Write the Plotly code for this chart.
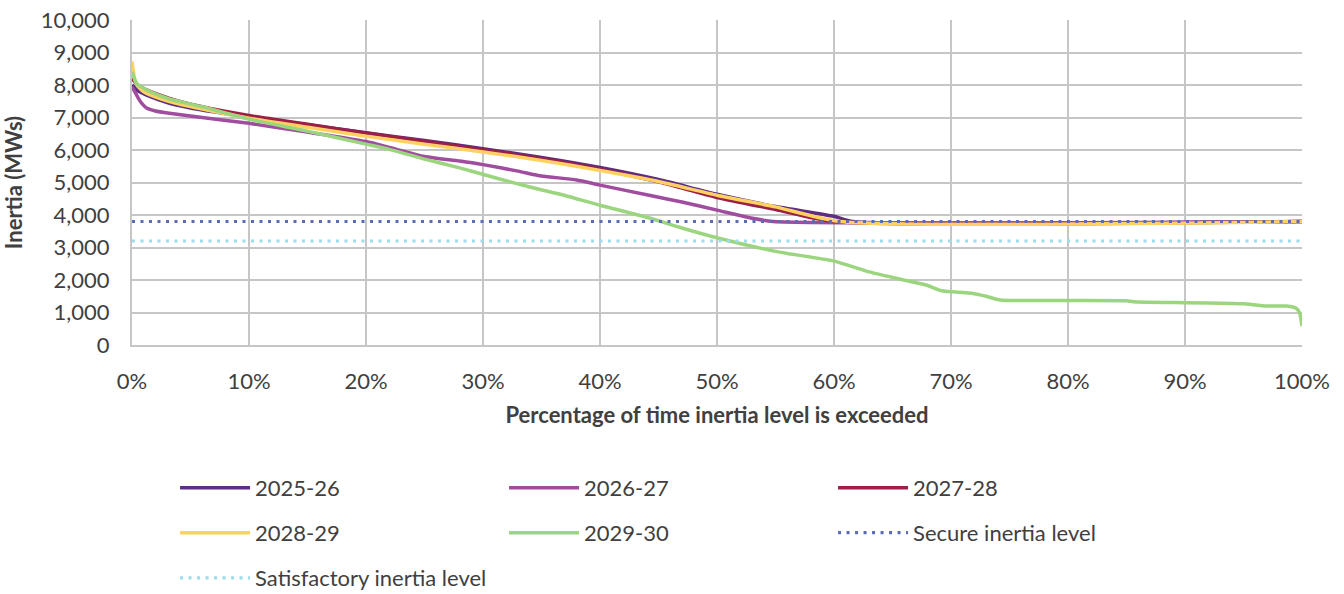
import plotly.graph_objects as go

# ---- data ----
x_2025 = [0, 0.5, 1.25, 3.2, 6, 10, 15, 20, 25, 30, 35, 40, 45, 50, 55, 60, 61.6, 100]
y_2025 = [8000, 7820, 7690, 7440, 7230, 7020, 6780, 6530, 6290, 6040, 5770, 5460, 5090, 4640, 4260, 3960, 3800, 3800]

x_2026 = [0, 0.3, 0.7, 1.25, 2, 3.2, 6, 10, 15, 20, 22, 25, 28, 30, 33, 35, 38, 40, 44.3, 47, 50, 53, 54.8, 100]
y_2026 = [7950, 7750, 7500, 7290, 7200, 7130, 7000, 6820, 6550, 6260, 6080, 5800, 5660, 5550, 5350, 5200, 5080, 4920, 4600, 4400, 4150, 3900, 3800, 3800]

x_2027 = [0, 0.5, 1.25, 3.2, 6, 10, 15, 20, 25, 30, 35, 40, 45, 50, 55, 60, 100]
y_2027 = [8200, 8000, 7850, 7590, 7330, 7060, 6790, 6520, 6270, 6010, 5730, 5410, 5020, 4540, 4170, 3800, 3800]

x_2028 = [0, 0.3, 0.8, 1.25, 3.2, 6, 10, 15, 20, 25, 30, 35, 40, 45, 50, 55, 60.5, 100]
y_2028 = [8720, 8100, 7850, 7740, 7490, 7260, 6980, 6700, 6420, 6180, 5940, 5680, 5370, 5030, 4610, 4250, 3800, 3800]

x_2029 = [0, 0.4, 1.25, 3.2, 6, 10, 15, 20, 22, 25, 28, 31.5, 34, 37, 40, 44.3, 47, 50, 55, 60, 63, 65.6, 68,
          69.2, 71.6, 73, 74.2, 80, 85, 85.6, 90, 94.1, 95, 97, 98.7, 99.5, 99.8, 100]
y_2029 = [8410, 8050, 7850, 7570, 7330, 6950, 6580, 6180, 6020, 5720, 5450, 5100, 4860, 4600, 4300, 3900, 3600, 3300,
          2880, 2580, 2250, 2030, 1830, 1670, 1600, 1500, 1385, 1370, 1360, 1330, 1300, 1280, 1270, 1200, 1200, 1130, 985, 580]

x_levels = [0, 100]
secure_level = [3800, 3800]
satisfactory_level = [3200, 3200]

series = [
    ("2025-26", x_2025, y_2025, "#5C2D82", "solid", "legend"),
    ("2026-27", x_2026, y_2026, "#A04C9F", "solid", "legend"),
    ("2027-28", x_2027, y_2027, "#9C1F45", "solid", "legend"),
    ("2028-29", x_2028, y_2028, "#FFD163", "solid", "legend2"),
    ("2029-30", x_2029, y_2029, "#9BD67F", "solid", "legend2"),
    ("Secure inertia level", x_levels, secure_level, "#5B6BB5", "3px,5.5px", "legend2"),
    ("Satisfactory inertia level", x_levels, satisfactory_level, "#9CDCEB", "3px,5.5px", "legend3"),
]

fig = go.Figure()
for name, xs, ys, color, dash, lg in series:
    fig.add_trace(go.Scatter(
        x=xs, y=ys, name=name, mode="lines", legend=lg,
        line=dict(color=color, width=3.5 if dash == "solid" else 3.2, dash=dash, shape="spline", smoothing=0.6),
    ))

font_family = "Lato, 'Open Sans', sans-serif"
grid = "#C6C6C6"
txt = "#404040"
fs = 22

legend_common = dict(
    orientation="h", xanchor="left", yanchor="middle", x=0.0368,
    entrywidth=244, entrywidthmode="pixels", itemwidth=70,
    font=dict(family=font_family, size=fs, color=txt),
    bgcolor="rgba(0,0,0,0)", traceorder="normal",
)

fig.update_layout(
    width=1344, height=614,
    margin=dict(l=132, r=42, t=20, b=269),
    paper_bgcolor="white", plot_bgcolor="white",
    font=dict(family=font_family, size=fs, color=txt),
    xaxis=dict(
        range=[0, 100], dtick=10, tick0=0, ticksuffix="%",
        showgrid=True, gridcolor=grid, gridwidth=2,
        showline=True, linecolor=grid, linewidth=2, mirror=False,
        zeroline=False, ticks="", ticklabelstandoff=16,
        tickfont=dict(size=fs, color=txt), automargin=False,
        title=dict(text="<b>Percentage of time inertia level is exceeded</b>",
                   font=dict(size=fs, color=txt), standoff=14),
    ),
    yaxis=dict(
        range=[0, 10000], dtick=1000, tickformat=",",
        showgrid=True, gridcolor=grid, gridwidth=2,
        showline=True, linecolor=grid, linewidth=2,
        zeroline=False, ticks="", ticklabelstandoff=16,
        ticklabeloverflow="allow", automargin=False,
        tickfont=dict(size=fs, color=txt),
        title=dict(text="<b>Inertia (MWs)</b>", font=dict(size=fs, color=txt), standoff=22),
    ),
    legend=dict(legend_common, y=-0.44),
    legend2=dict(legend_common, y=-0.578),
    legend3=dict(legend_common, y=-0.717),
    showlegend=True,
)

fig.write_html("out.html", config={"displayModeBar": False},
               post_script="document.body.style.margin='0px';")
